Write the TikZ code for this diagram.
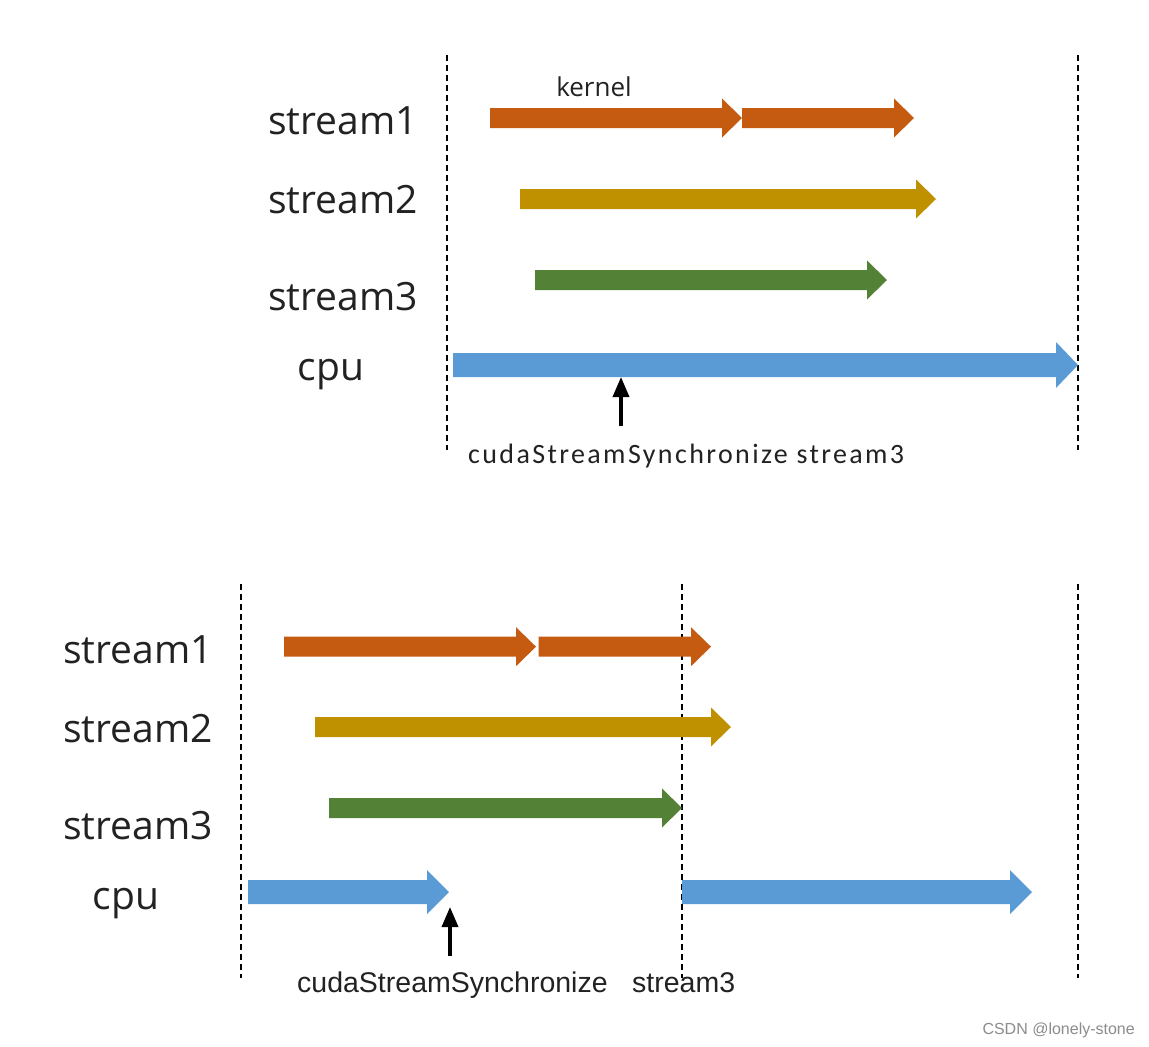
\documentclass[tikz,border=0pt]{standalone}
\usepackage{fontspec}
\setmainfont{Open Sans}
\newfontfamily\labfont{Open Sans}
\newfontfamily\calfont[LetterSpace=8.5]{Carlito}
\newfontfamily\arialfont{Liberation Sans}
\usetikzlibrary{arrows.meta}
\definecolor{corange}{HTML}{C55A11}
\definecolor{cgold}{HTML}{BF9000}
\definecolor{cgreen}{HTML}{538135}
\definecolor{cblue}{HTML}{5B9BD5}
\definecolor{ctext}{HTML}{222222}
% block arrow: x1, x2, y, colour, shaft half, head half, head length
\newcommand{\blockarr}[7]{\fill[#4] (#1,#3-#5) -- (#2-#7,#3-#5) -- (#2-#7,#3-#6) -- (#2,#3) -- (#2-#7,#3+#6) -- (#2-#7,#3+#5) -- (#1,#3+#5) -- cycle;}
\begin{document}
\begin{tikzpicture}[x=1pt,y=-1pt,
  lab/.style={font=\labfont\fontsize{39}{41}\selectfont, text=ctext, inner sep=0pt},
  timeline/.style={black, line width=1.1pt, dash pattern=on 6pt off 4pt},
  syncarrow/.style={line width=3.5pt, -{Triangle[width=16pt,length=20pt]}},
]
\useasboundingbox (0,0) rectangle (1149,1047);
\fill[white] (0,0) rectangle (1149,1047);

% ---------- top panel ----------
\draw[timeline] (447,55) -- (447,450);
\draw[timeline] (1078,55) -- (1078,450);

\node[lab, anchor=base west] (t1) at (268,134) {stream1};
\node[lab, anchor=base west] (t2) at (268,213) {stream2};
\node[lab, anchor=base west] (t3) at (268,310) {stream3};
\node[lab, anchor=base] (tc) at (331,380) {cpu};
\node[font=\labfont\fontsize{26}{28}\selectfont, text=ctext, inner sep=0pt, anchor=base] (tk) at (594,96) {kernel};

\blockarr{490}{742}{118}{corange}{10}{19.5}{20}
\blockarr{742}{914}{118}{corange}{10}{19.5}{20}
\blockarr{520}{936}{199}{cgold}{10}{19.5}{20}
\blockarr{535}{887}{280}{cgreen}{10}{19.5}{20}
\blockarr{453}{1078}{365}{cblue}{12}{23}{22}

\coordinate (tsyncA) at (621,426);
\coordinate (tsyncB) at (621,377);
\draw[syncarrow] (tsyncA) -- (tsyncB);
\node[font=\calfont\fontsize{28}{30}\selectfont, text=ctext, inner sep=0pt, anchor=base west] (ttext) at (468,463) {cudaStreamSynchronize stream3};

% ---------- bottom panel ----------
\draw[timeline] (241,584) -- (241,978);
\draw[timeline] (682,584) -- (682,978);
\draw[timeline] (1078,584) -- (1078,978);

\node[lab, anchor=base west] (b1) at (63,663) {stream1};
\node[lab, anchor=base west] (b2) at (63,742) {stream2};
\node[lab, anchor=base west] (b3) at (63,839) {stream3};
\node[lab, anchor=base] (bc) at (126,909) {cpu};

\blockarr{284}{536}{646.7}{corange}{10}{19.5}{20}
\blockarr{538.7}{711}{646.7}{corange}{10}{19.5}{20}
\blockarr{315}{731}{727}{cgold}{10}{19.5}{20}
\blockarr{329}{682}{808}{cgreen}{10}{19.5}{20}
\blockarr{248}{449}{892}{cblue}{12}{22}{22}
\blockarr{682}{1032}{892}{cblue}{12}{22}{22}

\coordinate (bsyncA) at (450,956);
\coordinate (bsyncB) at (450,907);
\draw[syncarrow] (bsyncA) -- (bsyncB);
\node[font=\arialfont\fontsize{28.5}{30}\selectfont, text=ctext, inner sep=0pt, anchor=base west] (btext1) at (297,992) {cudaStreamSynchronize};
\node[font=\arialfont\fontsize{28.5}{30}\selectfont, text=ctext, inner sep=0pt, anchor=base west] (btext2) at (632,992) {stream3};

\node[font=\arialfont\fontsize{16}{18}\selectfont, text=black!45, inner sep=0pt, anchor=base east] (wm) at (1135,1034) {CSDN @lonely-stone};
\end{tikzpicture}
\end{document}
